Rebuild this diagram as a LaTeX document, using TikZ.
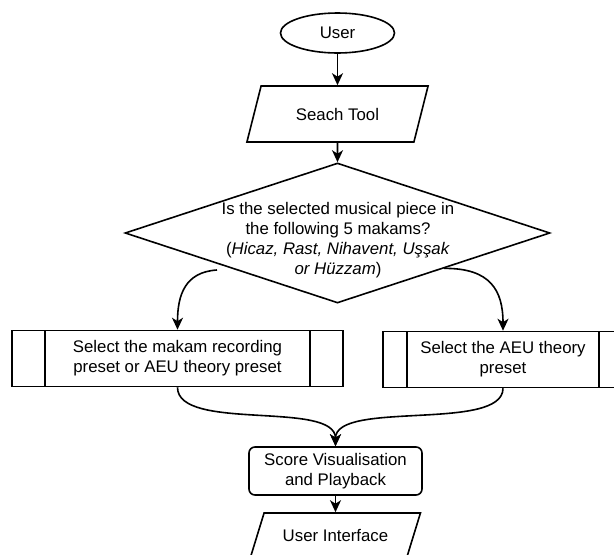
\documentclass[tikz,border=0pt]{standalone}
\usepackage{fontspec}
\setmainfont{Liberation Sans}
\usetikzlibrary{shapes.geometric, arrows.meta, calc}

\begin{document}
\begin{tikzpicture}[
    x=1pt, y=-1pt,
    txt/.style={font=\fontsize{16.8}{19.8}\selectfont, align=center, inner sep=0pt},
    base/.style={txt, draw, line width=1.6pt},
    terminal/.style={base, ellipse, minimum width=114pt, minimum height=40pt},
    io/.style={base, trapezium, trapezium stretches=true},
    decision/.style={base, diamond, minimum width=425pt, minimum height=140pt},
    procbox/.style={base, rectangle, minimum height=56pt, path picture={
        \draw[line width=1.6pt] ($(path picture bounding box.north west)!0.1!(path picture bounding box.north east)$) -- ($(path picture bounding box.south west)!0.1!(path picture bounding box.south east)$);
        \draw[line width=1.6pt] ($(path picture bounding box.north west)!0.9!(path picture bounding box.north east)$) -- ($(path picture bounding box.south west)!0.9!(path picture bounding box.south east)$);
    }},
    roundbox/.style={base, rectangle, rounded corners=6pt, minimum width=173pt, minimum height=48pt},
    arrow/.style={-{Stealth[length=12pt, width=11pt, inset=3.5pt]}, line width=1.6pt},
]
\useasboundingbox (0,0) rectangle (614,555);

\node[terminal] (user) at (337.5,33) {User};
\node[io, trapezium left angle=58, trapezium right angle=122, minimum width=182pt, minimum height=56pt] (search) at (337.5,114) {Seach Tool};
\node[decision] (dec) at (337.5,233) {};
\node[txt] (dectxt) at (338,240) {Is the selected musical piece in\\the following 5 makams?\\(\textit{Hicaz, Rast, Nihavent, Uşşak}\\\textit{or Hüzzam})};
\node[procbox, minimum width=331pt] (lsel) at (177.5,358.5) {Select the makam recording\\preset or AEU theory preset};
\node[procbox, minimum width=240pt] (rsel) at (503,359.5) {Select the AEU theory\\preset};
\node[roundbox] (score) at (335.5,471) {Score Visualisation\\and Playback};
\node[io, trapezium left angle=51, trapezium right angle=129, minimum width=170pt, minimum height=44pt] (ui) at (335.5,535) {User Interface};

\coordinate (dl) at (217,270);

\draw[arrow] (user) -- (search);
\draw[arrow] (search) -- (dec);
\draw[arrow] (dl) .. controls (185,272) and (177.5,295) .. (lsel.north);
\draw[arrow] (dec.south east) .. controls (490,268) and (503,290) .. (rsel.north);
\draw[arrow] (lsel.south) .. controls (177.5,432) and (335.5,400) .. (score.north);
\draw[arrow] (rsel.south) .. controls (503,432) and (335.5,400) .. (score.north);
\draw[arrow] (score) -- (ui);
\end{tikzpicture}
\end{document}
